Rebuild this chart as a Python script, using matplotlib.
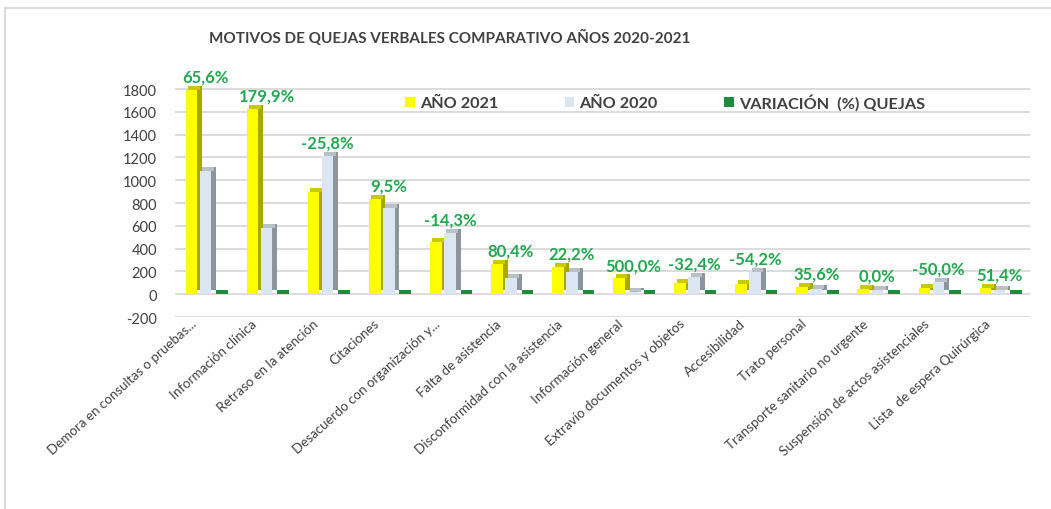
import matplotlib
matplotlib.use("Agg")
import matplotlib.pyplot as plt
import numpy as np

plt.rcParams['font.family'] = ['Lato', 'DejaVu Sans']

categories = [
    "Demora en consultas o pruebas...",
    "Información clínica",
    "Retraso en la atención",
    "Citaciones",
    "Desacuerdo con organización y...",
    "Falta de asistencia",
    "Disconformidad con la asistencia",
    "Información general",
    "Extravío documentos y objetos",
    "Accesibilidad",
    "Trato personal",
    "Transporte sanitario no urgente",
    "Suspensión de actos asistenciales",
    "Lista  de espera Quirúrgica",
]
v2021 = [1795, 1623, 900, 832, 460, 262, 239, 138, 100, 90, 61, 50, 55, 56]
v2020 = [1084, 580, 1213, 760, 537, 145, 196, 23, 148, 197, 45, 38, 110, 37]
var_pct = [65.6, 179.9, -25.8, 9.5, -14.3, 80.4, 22.2, 500.0, -32.4, -54.2, 35.6, 0.0, -50.0, 51.4]
yticks = [-200, 0, 200, 400, 600, 800, 1000, 1200, 1400, 1600, 1800]

W, H = 1051, 510
fig = plt.figure(figsize=(W / 100, H / 100), dpi=100)
fig.patch.set_facecolor('white')

# chart border (top and left light lines)
fig.add_artist(plt.Line2D([5 / W, 1], [1 - 9 / H, 1 - 9 / H], color='#d9d9d9', lw=1.5))
fig.add_artist(plt.Line2D([5 / W, 5 / W], [0, 1 - 9 / H], color='#d9d9d9', lw=1.5))

ax = fig.add_axes([175 / W, 1 - 318 / H, 855 / W, (318 - 86.6) / H])

x = np.arange(len(categories))
w = 0.19
off = 0.23
dx = 0.08
dy = 35

def bars3d(xp, h, front, side, top, label):
    h = np.asarray(h, dtype=float)
    ax.bar(xp + dx, h, width=w, bottom=dy, color=side, zorder=2, linewidth=0)
    ax.bar(xp + dx / 2, dy, width=w, bottom=h, color=top, zorder=2, linewidth=0)
    return ax.bar(xp, h, width=w, color=front, zorder=3, linewidth=0, label=label)

b1 = bars3d(x - off, v2021, '#FFFF00', '#A8A800', '#C9C900', 'AÑO 2021')
b2 = bars3d(x, v2020, '#DCE6F2', '#8C949C', '#B8C0C8', 'AÑO 2020')
var_frac = np.array(var_pct) / 100.0
b3 = bars3d(x + off, var_frac, '#1E8C3C', '#17702F', '#1E8C3C', 'VARIACIÓN  (%) QUEJAS')

for i, p in enumerate(var_pct):
    top = max(v2021[i], v2020[i]) + dy
    txt = f"{p:.1f}".replace('.', ',') + '%'
    ax.annotate(txt, (x[i], top), xytext=(0, 1), textcoords='offset points',
                ha='center', va='bottom', fontsize=12, fontweight='bold',
                color='#22A84F', zorder=5, annotation_clip=False)

ax.set_xlim(-0.5, len(categories) - 0.5)
ax.set_ylim(-200, 1830)
ax.set_yticks(yticks)
ax.set_yticklabels([str(t) for t in yticks], fontsize=10.5, color='#404040')
ax.tick_params(axis='y', length=0, pad=13)
ax.yaxis.grid(True, color='#d9d9d9', lw=1.3)
ax.set_axisbelow(True)
for s in ax.spines.values():
    s.set_visible(False)

ax.set_xticks(x - 0.25)
ax.set_xticklabels(categories, rotation=42, ha='right', va='top',
                   rotation_mode='anchor', fontsize=9.6, color='#404040')
ax.tick_params(axis='x', length=0, pad=0)

leg = ax.legend(handles=[b1, b2, b3], ncol=3, frameon=False,
                loc='center left', bbox_to_anchor=((405 - 175) / 855, 0.929),
                borderaxespad=0, borderpad=0, columnspacing=4.1,
                handlelength=0.6, handleheight=0.6, handletextpad=0.3,
                prop={'size': 11.7, 'weight': 'bold'})
for t in leg.get_texts():
    t.set_color('#404040')

fig.text(450 / W, 1 - 38 / H, "MOTIVOS DE QUEJAS VERBALES COMPARATIVO AÑOS 2020-2021",
         ha='center', va='center', fontsize=11, fontweight='bold', color='#404040')

fig.savefig('out.png', dpi=100, facecolor='white')
